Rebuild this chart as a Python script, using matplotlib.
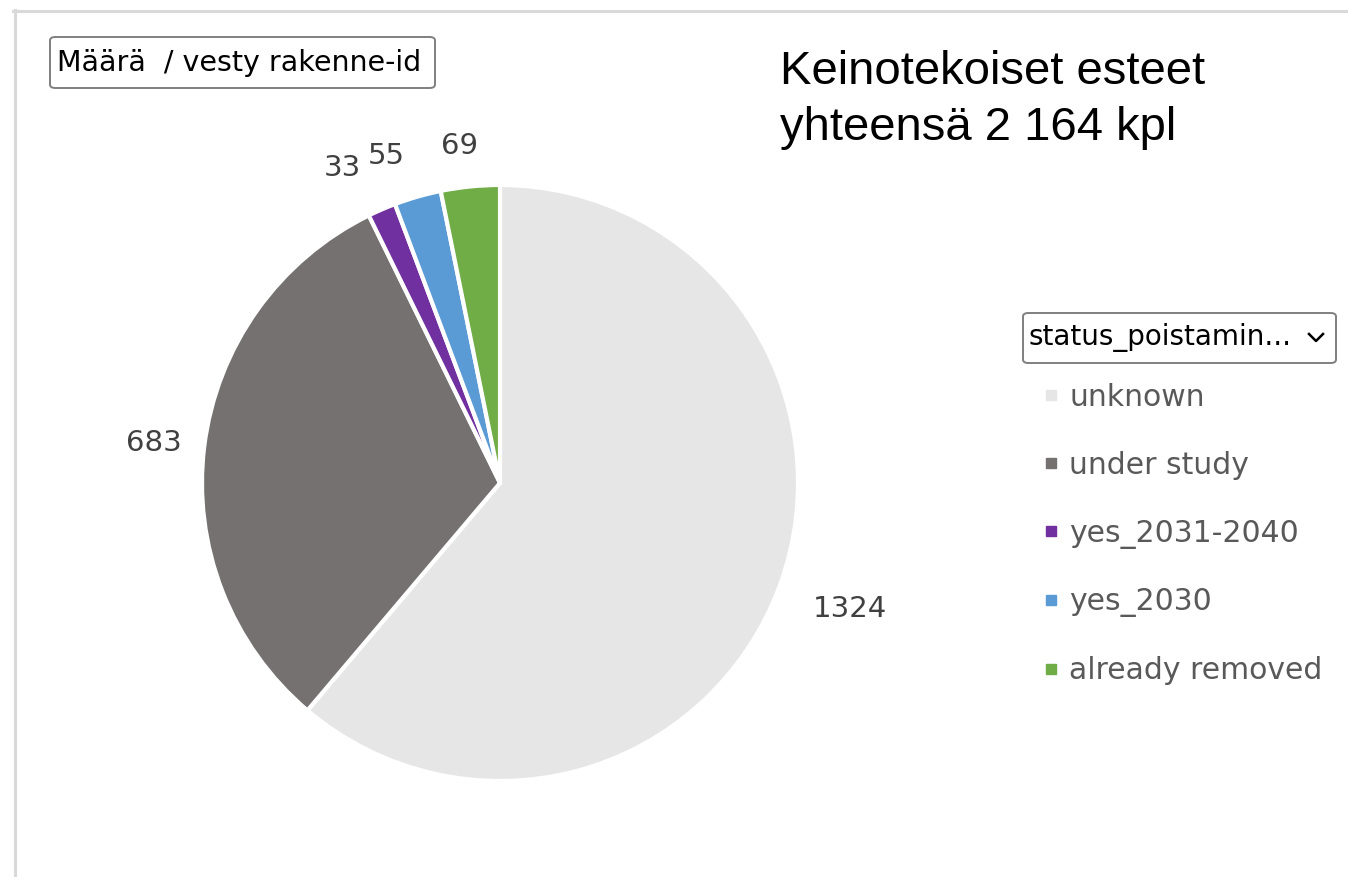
import numpy as np
import matplotlib
matplotlib.use("Agg")
import matplotlib.pyplot as plt
from matplotlib.lines import Line2D
from matplotlib.patches import FancyBboxPatch

# data
categories = ["unknown", "under study", "yes_2031-2040", "yes_2030", "already removed"]
counts = [1324, 683, 33, 55, 69]
colors = ["#E6E6E6", "#767171", "#7030A0", "#5B9BD5", "#70AD47"]
title_lines = ["Keinotekoiset esteet", "yhteensä 2 164 kpl"]
measure_label = "Määrä  / vesty rakenne-id"
legend_title = "status_poistamin..."

# label placement (distance in radii, angle nudge in degrees)
label_dist = [1.245, 1.17, 1.19, 1.17, 1.15]
label_nudge = [0.8, 0, 3, 3, 1]

W, H = 1348, 877


def fx(x):
    return x / W


def fy(y):
    return 1 - y / H


def button(x0, y0, x1, y1):
    # rounded grey-edged box, given in pixel coords (origin top left)
    p = FancyBboxPatch((fx(x0), fy(y1)), fx(x1) - fx(x0), fy(y0) - fy(y1),
                       boxstyle="round,pad=0,rounding_size=0.004", transform=fig.transFigure,
                       fc="white", ec="#7F7F7F", lw=1.4, zorder=2)
    fig.add_artist(p)


fig = plt.figure(figsize=(W / 100, H / 100), dpi=100)
fig.patch.set_facecolor("white")

# pie axes: square in pixels, centre ~ (500, 483), radius ~ 298 px
R = 298
cx, cy = 500, 483
side = 2.5 * R
ax = fig.add_axes([fx(cx - side / 2), fy(cy + side / 2), side / W, side / H])

wedges, _ = ax.pie(counts, colors=colors, startangle=90, counterclock=False,
                   wedgeprops=dict(edgecolor="white", linewidth=3))
for w, c, d, n in zip(wedges, counts, label_dist, label_nudge):
    ang = np.deg2rad((w.theta1 + w.theta2) / 2 + n)
    ax.text(d * np.cos(ang), d * np.sin(ang), str(c), fontsize=21, color="#404040",
            ha="center", va="center_baseline")
ax.set_xlim(-1.25, 1.25)
ax.set_ylim(-1.25, 1.25)
ax.set_aspect("equal")

# frame lines of the report area
fig.add_artist(Line2D([fx(13), 1], [fy(10.5), fy(10.5)], color="#D9D9D9", lw=2.2))
fig.add_artist(Line2D([fx(14.5), fx(14.5)], [fy(10), 0], color="#D9D9D9", lw=2.2))

# field button top left
button(50, 37, 435, 88)
fig.text(fx(57), fy(63), measure_label, fontsize=20.5, color="#000000", ha="left", va="center", zorder=3)

# title
fig.text(fx(780), fy(50), "\n".join(title_lines), fontsize=34, family="Liberation Sans",
         ha="left", va="top", linespacing=1.36, color="#000000")

# legend title button
button(1023, 313, 1336, 363)
fig.text(fx(1029), fy(338), legend_title, fontsize=20, color="#000000", ha="left", va="center", zorder=3)
fig.add_artist(Line2D([fx(1309), fx(1316), fx(1323)], [fy(334), fy(341), fy(334)],
                      color="#000000", lw=1.8, zorder=10))

handles = [Line2D([], [], marker="s", linestyle="none", markersize=7, markerfacecolor=c,
                  markeredgecolor=c) for c in colors]
leg = fig.legend(handles, categories, loc="upper left", bbox_to_anchor=(fx(1032), fy(371)),
                 frameon=False, fontsize=21.5, labelspacing=1.3, handlelength=0.5,
                 handletextpad=0.35, borderaxespad=0)
for t in leg.get_texts():
    t.set_color("#595959")

fig.savefig("out.png", dpi=100, facecolor="white")
